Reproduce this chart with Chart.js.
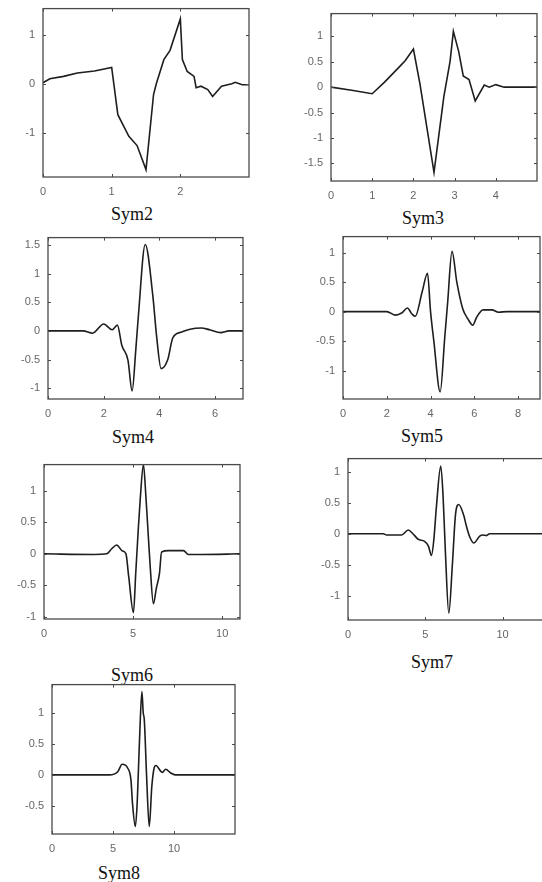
<!DOCTYPE html>
<html>
<head>
<meta charset="utf-8">
<script src="https://cdn.jsdelivr.net/npm/chart.js@4.4.1/dist/chart.umd.min.js"></script>
<style>
  html, body { margin: 0; padding: 0; background: #fff; overflow: hidden; }
  body { width: 542px; height: 882px; position: relative; }
  .plot { position: absolute; }
  .ttl { position: absolute; width: 100px; text-align: center; font-family: "Liberation Serif", "Times New Roman", serif; font-size: 18px; line-height: 18px; color: #111; }
</style>
</head>
<body>
<script>
// values
const sym2X = [0, 0.1, 0.3, 0.5, 0.75, 1.0, 1.09, 1.25, 1.37, 1.5, 1.61, 1.65, 1.76, 1.85, 2.0, 2.03, 2.1, 2.2, 2.23, 2.3, 2.4, 2.47, 2.6, 2.75, 2.8, 2.9, 3.0];
const sym2Y = [0.02, 0.1, 0.15, 0.22, 0.26, 0.33, -0.63, -1.07, -1.26, -1.75, -0.22, 0, 0.49, 0.68, 1.32, 0.49, 0.25, 0.15, -0.08, -0.05, -0.12, -0.26, -0.05, 0.0, 0.03, -0.02, -0.02];

const sym3X = [0, 0.5, 1.0, 1.3, 1.67, 1.8, 2.0, 2.16, 2.5, 2.74, 2.89, 2.97, 3.1, 3.21, 3.35, 3.5, 3.72, 3.84, 4.0, 4.2, 5.0];
const sym3Y = [0, -0.06, -0.13, 0.1, 0.41, 0.52, 0.75, 0.06, -1.68, -0.18, 0.51, 1.1, 0.7, 0.22, 0.15, -0.27, 0.04, 0.0, 0.05, 0, 0];

const sym4X = [0, 1.26, 1.6, 2.0, 2.3, 2.49, 2.65, 2.87, 3.02, 3.15, 3.25, 3.49, 3.76, 3.9, 4.06, 4.3, 4.48, 4.8, 5.1, 5.5, 5.8, 6.2, 6.5, 7];
const sym4Y = [0, 0, -0.04, 0.12, 0.02, 0.1, -0.25, -0.51, -1.05, -0.34, 0.3, 1.51, 0.63, -0.1, -0.66, -0.5, -0.12, -0.02, 0.03, 0.05, 0.02, -0.03, 0, 0];

const sym5X = [0, 1.55, 2.0, 2.4, 2.7, 2.94, 3.15, 3.3, 3.62, 3.86, 4.0, 4.15, 4.44, 4.65, 4.78, 4.98, 5.2, 5.47, 5.7, 5.93, 6.1, 6.4, 6.8, 7.1, 7.5, 9];
const sym5Y = [0, 0, 0, -0.06, -0.02, 0.06, -0.04, -0.08, 0.34, 0.65, 0, -0.5, -1.36, -0.43, 0.15, 1.02, 0.5, 0.05, -0.12, -0.23, -0.1, 0.03, 0.03, -0.01, 0, 0];

const sym6X = [0, 2.8, 3.52, 3.8, 4.08, 4.38, 4.6, 4.75, 5.02, 5.15, 5.3, 5.4, 5.58, 5.72, 5.85, 5.96, 6.14, 6.3, 6.48, 6.6, 7.0, 7.83, 8.1, 8.8, 11];
const sym6Y = [0, -0.01, 0, 0.08, 0.14, 0.05, 0, -0.35, -0.93, -0.3, 0.43, 0.86, 1.41, 0.9, 0.3, -0.2, -0.79, -0.55, -0.31, 0.03, 0.05, 0.05, -0.01, -0.01, 0];

const sym7X = [0, 2.28, 2.5, 3.46, 3.9, 4.2, 4.54, 4.93, 5.2, 5.4, 5.55, 5.72, 6.0, 6.15, 6.3, 6.52, 6.75, 6.95, 7.16, 7.48, 7.66, 7.87, 8.13, 8.52, 8.73, 8.95, 9.16, 13];
const sym7Y = [0, 0, -0.02, -0.02, 0.06, 0.0, -0.09, -0.12, -0.2, -0.35, -0.1, 0.44, 1.09, 0.6, -0.3, -1.28, -0.5, 0.3, 0.47, 0.3, 0.12, -0.05, -0.15, -0.04, -0.02, -0.03, 0, 0];

const sym8X = [0, 4.7, 5.39, 5.75, 6.2, 6.47, 6.6, 6.83, 6.97, 7.07, 7.21, 7.37, 7.48, 7.56, 7.75, 7.97, 8.18, 8.37, 8.51, 9.05, 9.32, 9.73, 10.1, 15];
const sym8Y = [0, 0, 0.05, 0.17, 0.11, -0.08, -0.46, -0.83, -0.5, 0, 0.75, 1.34, 0.99, 0.9, 0, -0.83, -0.19, 0.11, 0.15, 0.04, 0.09, 0.03, 0, 0];

// tick labels
const sym2XTicks = [0, 1, 2];        const sym2YTicks = [-1, 0, 1];
const sym3XTicks = [0, 1, 2, 3, 4];  const sym3YTicks = [-1.5, -1, -0.5, 0, 0.5, 1];
const sym4XTicks = [0, 2, 4, 6];     const sym4YTicks = [-1, -0.5, 0, 0.5, 1, 1.5];
const sym5XTicks = [0, 2, 4, 6, 8];  const sym5YTicks = [-1, -0.5, 0, 0.5, 1];
const sym6XTicks = [0, 5, 10];       const sym6YTicks = [-1, -0.5, 0, 0.5, 1];
const sym7XTicks = [0, 5, 10];       const sym7YTicks = [-1, -0.5, 0, 0.5, 1];
const sym8XTicks = [0, 5, 10];       const sym8YTicks = [-0.5, 0, 0.5, 1];

// frame with inward ticks on all four sides, like the matlab plots
const boxPlugin = {
  id: 'box',
  afterDraw(chart) {
    const a = chart.chartArea, ctx = chart.ctx;
    const xs = chart.scales.x, ys = chart.scales.y;
    ctx.save();
    ctx.strokeStyle = '#4a4a4a';
    ctx.lineWidth = 1.3;
    ctx.strokeRect(a.left, a.top, a.right - a.left, a.bottom - a.top);
    ctx.lineWidth = 1;
    ctx.beginPath();
    xs.ticks.forEach(t => {
      const p = Math.round(xs.getPixelForValue(t.value)) + 0.5;
      ctx.moveTo(p, a.bottom); ctx.lineTo(p, a.bottom - 3);
      ctx.moveTo(p, a.top); ctx.lineTo(p, a.top + 3);
    });
    ys.ticks.forEach(t => {
      const p = Math.round(ys.getPixelForValue(t.value)) + 0.5;
      ctx.moveTo(a.left, p); ctx.lineTo(a.left + 3, p);
      ctx.moveTo(a.right, p); ctx.lineTo(a.right - 3, p);
    });
    ctx.stroke();
    ctx.restore();
  }
};

const tickFont = { family: 'Liberation Sans, Arial, sans-serif', size: 11 };

function build(wrap, w, h, pts, xTicks, yTicks, xMax, yMin, yMax, smooth) {
  wrap.innerHTML = '';
  const cv = document.createElement('canvas');
  cv.width = w;
  cv.height = h;
  wrap.appendChild(cv);
  return new Chart(cv, {
    type: 'line',
    data: {
      datasets: [{
        data: pts,
        borderColor: '#1e1e1e',
        borderWidth: 1.6,
        pointRadius: 0,
        fill: false,
        tension: 0,
        cubicInterpolationMode: smooth ? 'monotone' : 'default'
      }]
    },
    options: {
      responsive: false,
      animation: false,
      devicePixelRatio: 1,
      layout: { padding: { top: 2, right: 5, left: 0, bottom: 0 } },
      plugins: { legend: { display: false }, tooltip: { enabled: false } },
      scales: {
        x: {
          type: 'linear', min: 0, max: xMax,
          grid: { display: false, drawTicks: false },
          border: { display: false },
          afterBuildTicks: s => { s.ticks = xTicks.map(v => ({ value: v })); },
          afterFit: s => { s.height = 26; },
          ticks: { color: '#666', font: tickFont, padding: 8, maxRotation: 0, autoSkip: false, callback: v => String(v) }
        },
        y: {
          type: 'linear', min: yMin, max: yMax,
          grid: { display: false, drawTicks: false },
          border: { display: false },
          afterBuildTicks: s => { s.ticks = yTicks.map(v => ({ value: v })); },
          afterFit: s => { s.width = 40; },
          ticks: { color: '#666', font: tickFont, padding: 8, autoSkip: false, callback: v => String(v) }
        }
      }
    },
    plugins: [boxPlugin]
  });
}

function plot(name, box, xv, yv, xTicks, yTicks, xMax, yMin, yMax, smooth, title) {
  const wrap = document.createElement('div');
  wrap.className = 'plot';
  document.body.appendChild(wrap);

  const t = document.createElement('div');
  t.className = 'ttl';
  t.textContent = name;
  t.style.left = (title[0] - 50) + 'px';
  t.style.top = (title[1] - 9) + 'px';
  document.body.appendChild(t);

  const pts = xv.map((x, i) => ({ x: x, y: yv[i] }));

  // first pass measures how much room the scales take, second pass uses the corrected canvas size
  let w = box.w + 45, h = box.h + 30;
  let chart = build(wrap, w, h, pts, xTicks, yTicks, xMax, yMin, yMax, smooth);
  for (let k = 0; k < 2; k++) {
    const a = chart.chartArea;
    const dw = box.w - (a.right - a.left), dh = box.h - (a.bottom - a.top);
    if (!dw && !dh) break;
    w += dw; h += dh;
    chart.destroy();
    chart = build(wrap, w, h, pts, xTicks, yTicks, xMax, yMin, yMax, smooth);
  }
  wrap.style.left = (box.left - chart.chartArea.left) + 'px';
  wrap.style.top = (box.top - chart.chartArea.top) + 'px';
}

plot('Sym2', { left: 43, top: 9, w: 206, h: 168 }, sym2X, sym2Y, sym2XTicks, sym2YTicks, 3, -1.9, 1.53, false, [132, 214]);
plot('Sym3', { left: 331, top: 14, w: 206, h: 167 }, sym3X, sym3Y, sym3XTicks, sym3YTicks, 5, -1.85, 1.45, false, [423, 218]);
plot('Sym4', { left: 48, top: 238, w: 195, h: 161 }, sym4X, sym4Y, sym4XTicks, sym4YTicks, 7, -1.19, 1.63, true, [133, 437]);
plot('Sym5', { left: 343, top: 237, w: 197, h: 162 }, sym5X, sym5Y, sym5XTicks, sym5YTicks, 9, -1.48, 1.27, true, [422, 436]);
plot('Sym6', { left: 44, top: 465, w: 196, h: 154 }, sym6X, sym6Y, sym6XTicks, sym6YTicks, 11, -1.03, 1.41, true, [132, 675]);
plot('Sym7', { left: 348, top: 459, w: 201, h: 161 }, sym7X, sym7Y, sym7XTicks, sym7YTicks, 13, -1.39, 1.21, true, [432, 662]);
plot('Sym8', { left: 52, top: 685, w: 183, h: 149 }, sym8X, sym8Y, sym8XTicks, sym8YTicks, 15, -0.95, 1.45, true, [119, 873]);
</script>
</body>
</html>
